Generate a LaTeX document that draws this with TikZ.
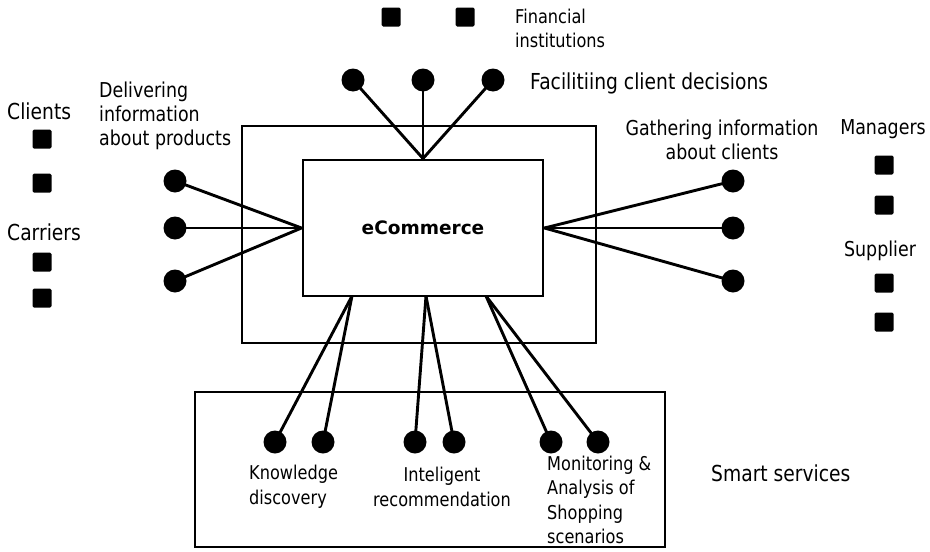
\documentclass[tikz,border=0pt]{standalone}
\usepackage{fontspec}
\setmainfont{DejaVu Sans}[FakeStretch=0.85]
\newfontfamily\ecfont{DejaVu Sans}
\usepackage{tikz}
\usetikzlibrary{positioning,calc}

\begin{document}
\begin{tikzpicture}[x=1pt,y=-1pt, %
        box/.style={draw, line width=2.9pt},
        dot/.style={circle, fill=black, inner sep=0pt, minimum size=23pt},
        actor/.style={fill=black, rounded corners=1.5pt, inner sep=0pt, minimum size=19pt},
        link/.style={line width=2.9pt},
        big/.style={inner sep=0pt, font=\fontsize{22}{25}\selectfont},
        med/.style={inner sep=0pt, font=\fontsize{20.5}{24}\selectfont},
        small/.style={inner sep=0pt, font=\fontsize{19}{24.5}\selectfont}
        ]
        \useasboundingbox (0,0) rectangle (930,552);

        % boxes
        \node[box, minimum width=354pt, minimum height=217pt] (frame) at (419,234.5) {};
        \node[box, minimum width=240pt, minimum height=136pt,
              font=\ecfont\bfseries\fontsize{18.5}{22}\selectfont] (ec) at (423,228) {eCommerce};
        \node[box, minimum width=470pt, minimum height=155pt] (smart) at (430,469.5) {};

        % actors
        \node[big, anchor=west] (clients) at (7,111) {Clients};
        \node[actor] (c1) at (42,139) {};
        \node[actor] (c2) at (42,183) {};
        \node[big, anchor=west] (carriers) at (7,232) {Carriers};
        \node[actor] (k1) at (42,262) {};
        \node[actor] (k2) at (42,298) {};
        \node[med] (managers) at (883,129) {Managers};
        \node[actor] (m1) at (884,165) {};
        \node[actor] (m2) at (884,205) {};
        \node[med] (supplier) at (880,251) {Supplier};
        \node[actor] (s1) at (884,283) {};
        \node[actor] (s2) at (884,322) {};
        \node[actor] (f1) at (391,17) {};
        \node[actor] (f2) at (465,17) {};
        \node[small, align=left, anchor=west] (fin) at (515,28.5) {Financial\\institutions};

        % top
        \node[dot] (t1) at (353,80) {};
        \node[dot] (t2) at (423,80) {};
        \node[dot] (t3) at (493,80) {};
        \node[big, anchor=west] (facil) at (530,83) {Facilitiing client decisions};
        \foreach \i in {1,2,3}
          \draw[link] (t\i.center) -- (ec.north);

        % left
        \node[dot] (l1) at (175,181) {};
        \node[dot] (l2) at (175,228) {};
        \node[dot] (l3) at (175,281) {};
        \node[med, align=left, anchor=west] (deliv) at (99,116) {Delivering\\information\\about products};
        \foreach \i in {1,2,3}
          \draw[link] (l\i.center) -- (ec.west);

        % right
        \node[dot] (r1) at (733,181) {};
        \node[dot] (r2) at (733,228) {};
        \node[dot] (r3) at (733,281) {};
        \node[med, align=center] (gather) at (722,140) {Gathering information\\about clients};
        \foreach \i in {1,2,3}
          \draw[link] (r\i.center) -- (ec.east);

        % bottom
        \coordinate (e1) at (352,296);
        \coordinate (e2) at (426,296);
        \coordinate (e3) at (486,296);
        \node[dot] (b1) at (275,442) {};
        \node[dot] (b2) at (323,442) {};
        \node[dot] (b3) at (415,442) {};
        \node[dot] (b4) at (454,442) {};
        \node[dot] (b5) at (551,442) {};
        \node[dot] (b6) at (598,442) {};
        \draw[link] (b1.center) -- (e1);
        \draw[link] (b2.center) -- (e1);
        \draw[link] (b3.center) -- (e2);
        \draw[link] (b4.center) -- (e2);
        \draw[link] (b5.center) -- (e3);
        \draw[link] (b6.center) -- (e3);
        \node[small, align=left, anchor=west] (know) at (249,487) {Knowledge\\discovery};
        \node[small, align=center] (recom) at (442,487) {Inteligent\\recommendation};
        \node[small, align=left, anchor=west] (monit) at (547,500) {Monitoring \&\\Analysis of\\Shopping\\scenarios};
        \node[big, anchor=west] (smartlbl) at (711,473) {Smart services};
      \end{tikzpicture}
\end{document}
